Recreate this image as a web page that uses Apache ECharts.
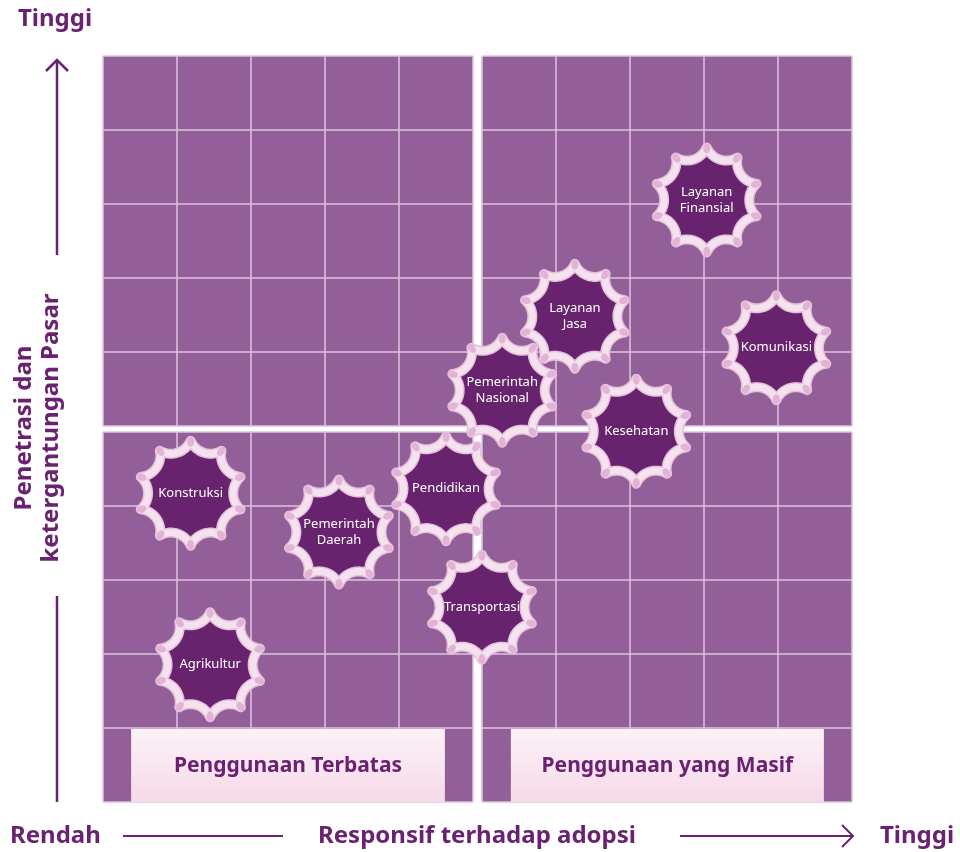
<!DOCTYPE html>
<html>
<head>
<meta charset="utf-8">
<script src="https://cdn.jsdelivr.net/npm/echarts@6/dist/echarts.min.js"></script>
<style>
html,body{margin:0;padding:0;background:#ffffff;}
#chart{width:960px;height:852px;}
</style>
</head>
<body>
<div id="chart"></div>
<script>
// ---- data ----
const sectors = ['Layanan\nFinansial', 'Komunikasi', 'Layanan\nJasa', 'Pemerintah\nNasional', 'Kesehatan',
                 'Konstruksi', 'Pendidikan', 'Pemerintah\nDaerah', 'Transportasi', 'Agrikultur'];
// responsiveness to adoption (x, 0-10)
const adoption    = [8.06, 8.99, 6.30, 5.33, 7.12, 1.17, 4.58, 3.15, 5.06, 1.43];
// market penetration & dependency (y, 0-10)
const penetration = [8.07, 6.09, 6.51, 5.52, 4.97, 4.14, 4.20, 3.62, 2.61, 1.84];
const usageLabels = ['Penggunaan Terbatas', 'Penggunaan yang Masif'];
const xTitle = 'Responsif terhadap adopsi';
const yTitle = 'Penetrasi dan\nketergantungan Pasar';
const lowLabel = 'Rendah';
const highLabel = 'Tinggi';

// ---- styles ----
const PURPLE_BG = '#925f99';
const GRID_LINE = '#dcc4df';
const DARK = '#6b2172';
const GEAR_FILL = '#68236f';
const FONT = '"Noto Sans", "Open Sans", sans-serif';

const chart = echarts.init(document.getElementById('chart'), null, {renderer: 'canvas'});

const quadrants = [
  {left: 103, top: 56},
  {left: 482, top: 56},
  {left: 103, top: 432},
  {left: 482, top: 432}
];
const grids = quadrants.map(q => ({
  left: q.left, top: q.top, width: 370, height: 370,
  show: true, backgroundColor: PURPLE_BG, borderWidth: 0
}));
grids.push({left: 103, top: 56, width: 749, height: 746, show: false});

function qAxis(i) {
  return {
    type: 'value', gridIndex: i, min: 0, max: 5, interval: 1,
    axisLine: {show: false}, axisTick: {show: false}, axisLabel: {show: false},
    splitLine: {show: true, lineStyle: {color: GRID_LINE, width: 1.5}}
  };
}
const xAxes = [0, 1, 2, 3].map(qAxis);
const yAxes = [0, 1, 2, 3].map(qAxis);
xAxes.push({type: 'value', gridIndex: 4, min: 0, max: 10, show: false});
yAxes.push({type: 'value', gridIndex: 4, min: 0, max: 10, show: false});

// scalloped gear outline around a center
function gearOutline(cx, cy, R, valleyRatio, n) {
  const pts = [];
  const tips = [];
  const half = Math.PI / n;
  const L = R * Math.sin(half);
  const h = R * Math.cos(half) - valleyRatio * R;
  const r = (L * L + h * h) / (2 * h);
  for (let k = 0; k < n; k++) {
    const a0 = -Math.PI / 2 + k * 2 * half;
    const a1 = a0 + 2 * half;
    const am = a0 + half;
    const p0 = [cx + R * Math.cos(a0), cy + R * Math.sin(a0)];
    const p1 = [cx + R * Math.cos(a1), cy + R * Math.sin(a1)];
    tips.push(a0);
    const oc = [cx + (valleyRatio * R + r) * Math.cos(am), cy + (valleyRatio * R + r) * Math.sin(am)];
    const t0 = Math.atan2(p0[1] - oc[1], p0[0] - oc[0]);
    const t1 = Math.atan2(p1[1] - oc[1], p1[0] - oc[0]);
    let d = t1 - t0;
    while (d > Math.PI) d -= 2 * Math.PI;
    while (d < -Math.PI) d += 2 * Math.PI;
    const steps = 14;
    for (let s = 0; s < steps; s++) {
      const t = t0 + d * s / steps;
      pts.push([oc[0] + r * Math.cos(t), oc[1] + r * Math.sin(t)]);
    }
  }
  return {pts, tips};
}

function renderGear(params, api) {
  const c = api.coord([api.value(0), api.value(1)]);
  const R = 52.5;
  const g = gearOutline(c[0], c[1], R, 0.81, 10);
  const children = [
    {type: 'polygon', shape: {points: g.pts},
     style: {fill: GEAR_FILL, stroke: '#e6bfdb', lineWidth: 10, lineJoin: 'round'}},
    {type: 'polygon', shape: {points: g.pts},
     style: {fill: null, stroke: '#f5e2ef', lineWidth: 7, lineJoin: 'round'}}
  ];
  g.tips.forEach(a => {
    children.push({type: 'ellipse',
      shape: {cx: 0, cy: 0, rx: 5, ry: 3.5},
      x: c[0] + (R - 1) * Math.cos(a), y: c[1] + (R - 1) * Math.sin(a), rotation: -a,
      style: {fill: '#e2b3d5'}});
  });
  children.push({
    type: 'text', x: c[0], y: c[1],
    style: {text: sectors[params.dataIndex], fill: '#ffffff',
      font: '13px ' + FONT, align: 'center', verticalAlign: 'middle', lineHeight: 16}
  });
  return {type: 'group', children};
}

function renderBox(params, api) {
  const p0 = api.coord([api.value(0), api.value(3)]);
  const p1 = api.coord([api.value(2), api.value(1)]);
  return {
    type: 'group',
    children: [
      {type: 'rect', shape: {x: p0[0], y: p0[1] + 1, width: p1[0] - p0[0], height: p1[1] - p0[1] - 1},
       style: {fill: new echarts.graphic.LinearGradient(0, 0, 0, 1, [
         {offset: 0, color: '#fdf2f8'}, {offset: 1, color: '#f6d9e8'}])}},
      {type: 'text', x: (p0[0] + p1[0]) / 2, y: (p0[1] + p1[1]) / 2 + 1,
       style: {text: usageLabels[params.seriesIndex], fill: DARK,
         font: 'bold 21px ' + FONT, align: 'center', verticalAlign: 'middle'}}
    ]
  };
}

const option = {
  animation: false,
  backgroundColor: '#ffffff',
  grid: grids,
  xAxis: xAxes,
  yAxis: yAxes,
  series: [
    {type: 'custom', xAxisIndex: 2, yAxisIndex: 2, renderItem: renderBox, silent: true,
     data: [[0.38, 0, 4.62, 1]]},
    {type: 'custom', xAxisIndex: 3, yAxisIndex: 3, renderItem: renderBox, silent: true,
     data: [[0.39, 0, 4.62, 1]]},
    {type: 'custom', xAxisIndex: 4, yAxisIndex: 4, renderItem: renderGear, silent: true,
     data: sectors.map((s, i) => [adoption[i], penetration[i]])}
  ],
  graphic: [
    {type: 'text', left: 18, top: 7,
     style: {text: highLabel, fill: DARK, font: 'bold 24px ' + FONT}},
    {type: 'text', x: 10, y: 836,
     style: {text: lowLabel, fill: DARK, font: 'bold 24px ' + FONT, verticalAlign: 'middle'}},
    {type: 'text', x: 880, y: 836,
     style: {text: highLabel, fill: DARK, font: 'bold 24px ' + FONT, verticalAlign: 'middle'}},
    {type: 'text', x: 477, y: 836,
     style: {text: xTitle, fill: DARK, font: 'bold 24px ' + FONT, align: 'center', verticalAlign: 'middle'}},
    {type: 'text', x: 38, y: 428, rotation: Math.PI / 2,
     style: {text: yTitle, fill: DARK, font: 'bold 24px ' + FONT, align: 'center',
       verticalAlign: 'middle', lineHeight: 27}},
    // vertical arrow
    {type: 'polyline', shape: {points: [[57, 60], [57, 255]]}, style: {stroke: DARK, lineWidth: 2.5}},
    {type: 'polyline', shape: {points: [[46, 71], [57, 60], [68, 71]]}, style: {stroke: DARK, lineWidth: 2.5, fill: null}},
    {type: 'polyline', shape: {points: [[57, 596], [57, 802]]}, style: {stroke: DARK, lineWidth: 2.5}},
    // horizontal arrow
    {type: 'polyline', shape: {points: [[123, 836], [283, 836]]}, style: {stroke: DARK, lineWidth: 2}},
    {type: 'polyline', shape: {points: [[680, 836], [852, 836]]}, style: {stroke: DARK, lineWidth: 2}},
    {type: 'polyline', shape: {points: [[842, 825], [853, 836], [842, 847]]}, style: {stroke: DARK, lineWidth: 2, fill: null}}
  ]
};
chart.setOption(option);
</script>
</body>
</html>
